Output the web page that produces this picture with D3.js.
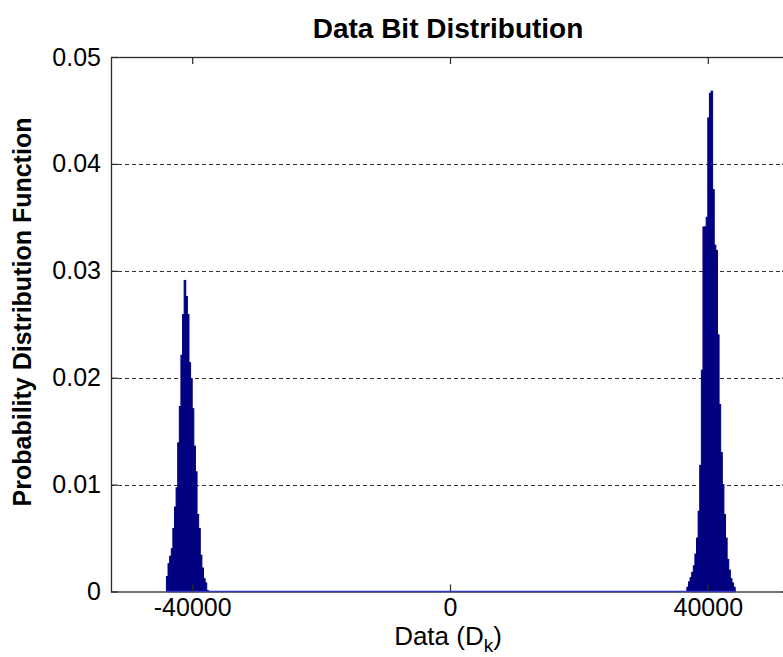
<!DOCTYPE html>
<html>
<head>
<meta charset="utf-8">
<script src="https://cdn.jsdelivr.net/npm/d3@7/dist/d3.min.js"></script>
<style>
  html, body { margin: 0; padding: 0; background: #ffffff; }
  svg { display: block; }
  text { font-family: "Liberation Sans", Arial, sans-serif; fill: #000; }
</style>
</head>
<body>
<svg id="chart" width="783" height="657"></svg>
<script>
// ---- data ----
const title = "Data Bit Distribution";
const yLabel = "Probability Distribution Function";
const binWidth = 250;             // width of each histogram bin (data units)
const leftStart = -44000;         // first bin edge of the negative cluster
const leftValues = [0.0014, 0.0026, 0.0033, 0.0040, 0.0059, 0.0079, 0.0097, 0.0139, 0.0173,
  0.0221, 0.0259, 0.0291, 0.0276, 0.0259, 0.0214, 0.0199, 0.0171, 0.0136, 0.0112, 0.0072,
  0.0059, 0.0034, 0.0022, 0.0012, 0.0008, 0.0001];
const rightStart = 36750;         // first bin edge of the positive cluster
const rightValues = [0.0004, 0.0009, 0.0013, 0.0018, 0.0024, 0.0035, 0.0050, 0.0075, 0.0118,
  0.0207, 0.0341, 0.0341, 0.0350, 0.0443, 0.0466, 0.0468, 0.0376, 0.0324, 0.0319, 0.0240,
  0.0175, 0.0130, 0.0100, 0.0072, 0.0050, 0.0030, 0.0020, 0.0012, 0.0008, 0.0004];
const xTicks = [-40000, 0, 40000];
const xTickLabels = ["-40000", "0", "40000"];
const yTicks = [0, 0.01, 0.02, 0.03, 0.04, 0.05];
const yTickLabels = ["0", "0.01", "0.02", "0.03", "0.04", "0.05"];
const xDomain = [-52600, 52600];
const yDomain = [0, 0.05];

// ---- layout ----
const svg = d3.select("#chart");
const L = 111, R = 789, T = 57, B = 591.5;
const x = d3.scaleLinear().domain(xDomain).range([L, R]);
const y = d3.scaleLinear().domain(yDomain).range([B, T]);
const FONT = "'Liberation Sans', Arial, sans-serif";

const bins = [];
leftValues.forEach((v, i) => bins.push({x0: leftStart + i * binWidth, v}));
rightValues.forEach((v, i) => bins.push({x0: rightStart + i * binWidth, v}));

// grid lines
svg.append("g").selectAll("line")
  .data(yTicks.filter(t => t > 0 && t < 0.05))
  .join("line")
  .attr("x1", L).attr("x2", R)
  .attr("y1", d => Math.round(y(d)) + 0.5).attr("y2", d => Math.round(y(d)) + 0.5)
  .attr("stroke", "#333").attr("stroke-width", 1.1)
  .attr("stroke-dasharray", "4,3");

// bars
const barColor = "#000080";
svg.append("g").selectAll("rect")
  .data(bins)
  .join("rect")
  .attr("x", d => x(d.x0))
  .attr("width", d => x(d.x0 + binWidth) - x(d.x0))
  .attr("y", d => y(d.v))
  .attr("height", d => y(0) - y(d.v))
  .attr("fill", barColor)
  .attr("stroke", barColor)
  .attr("stroke-width", 1.0);

// axis box
const axisColor = "#2b2b2b";
svg.append("rect")
  .attr("x", L + 0.5).attr("y", T + 0.5)
  .attr("width", R - L).attr("height", B - T)
  .attr("fill", "none").attr("stroke", axisColor).attr("stroke-width", 1.3);

// blue baseline of the empty bins
svg.append("line")
  .attr("x1", x(leftStart)).attr("x2", x(rightStart + rightValues.length * binWidth))
  .attr("y1", y(0)).attr("y2", y(0))
  .attr("stroke", "#3838c0").attr("stroke-width", 1.6);

// bottom axis (inward ticks) + top ticks
const tickLen = 7;
const xAxis = d3.axisBottom(x).tickValues(xTicks)
  .tickFormat((d, i) => xTickLabels[i]).tickSizeInner(-tickLen).tickSizeOuter(0).tickPadding(7);
const gx = svg.append("g").attr("transform", `translate(0,${B})`).call(xAxis);
gx.select(".domain").remove();
gx.selectAll(".tick line").attr("stroke", axisColor).attr("stroke-width", 1.2);
gx.selectAll(".tick text").attr("font-size", 25).attr("fill", "#000").attr("font-family", FONT);

const xTop = d3.axisTop(x).tickValues(xTicks).tickFormat("").tickSizeInner(-tickLen).tickSizeOuter(0);
const gxt = svg.append("g").attr("transform", `translate(0,${T})`).call(xTop);
gxt.select(".domain").remove();
gxt.selectAll(".tick line").attr("stroke", axisColor).attr("stroke-width", 1.2);

// left axis
const yAxis = d3.axisLeft(y).tickValues(yTicks)
  .tickFormat((d, i) => yTickLabels[i]).tickSizeInner(-tickLen).tickSizeOuter(0).tickPadding(10);
const gy = svg.append("g").attr("transform", `translate(${L},0)`).call(yAxis);
gy.select(".domain").remove();
gy.selectAll(".tick line").attr("stroke", axisColor).attr("stroke-width", 1.2);
gy.selectAll(".tick text").attr("font-size", 25).attr("fill", "#000").attr("font-family", FONT);

const yRight = d3.axisRight(y).tickValues(yTicks).tickFormat("").tickSizeInner(-tickLen).tickSizeOuter(0);
const gyr = svg.append("g").attr("transform", `translate(${R},0)`).call(yRight);
gyr.select(".domain").remove();
gyr.selectAll(".tick line").attr("stroke", axisColor).attr("stroke-width", 1.2);

// title
svg.append("text")
  .attr("x", 448).attr("y", 38)
  .attr("text-anchor", "middle")
  .attr("font-size", 28).attr("font-weight", "bold")
  .text(title);

// x label with subscript
const xl = svg.append("text")
  .attr("x", 448).attr("y", 645)
  .attr("text-anchor", "middle")
  .attr("font-size", 26);
xl.append("tspan").text("Data (D");
xl.append("tspan").attr("font-size", 19).attr("dy", 7).text("k");
xl.append("tspan").attr("dy", -7).text(")");

// y label
svg.append("text")
  .attr("transform", `translate(31,312) rotate(-90)`)
  .attr("text-anchor", "middle")
  .attr("font-size", 25).attr("font-weight", "bold")
  .text(yLabel);
</script>
</body>
</html>
